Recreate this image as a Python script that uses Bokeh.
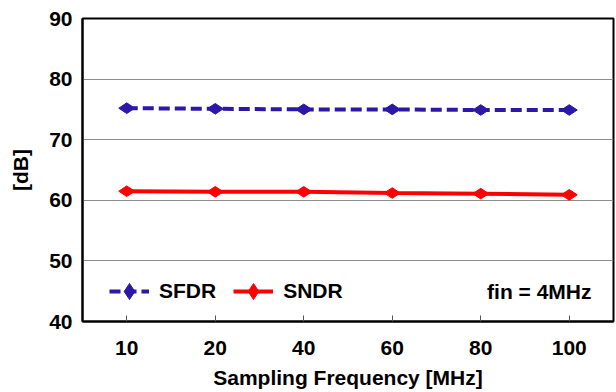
import math
from bokeh.plotting import figure
from bokeh.models import Legend, LegendItem, Label, FactorRange, FixedTicker, Range1d
from bokeh.embed import file_html
from bokeh.resources import INLINE

freqs = ["10", "20", "40", "60", "80", "100"]
sfdr = [75.2, 75.1, 75.0, 75.0, 74.9, 74.9]
sndr = [61.5, 61.4, 61.4, 61.2, 61.1, 60.9]
y_ticks = [40, 50, 60, 70, 80, 90]

FONT = "Liberation Sans"
FS = "21px"
BLUE = "#2B17A8"
RED = "#FF0000"

p = figure(width=616, height=392, x_range=FactorRange(factors=freqs),
           y_range=Range1d(40, 90), output_backend="svg", toolbar_location=None,
           min_border_left=82, min_border_right=3, min_border_top=18, min_border_bottom=71)

p.outline_line_color = "black"
p.outline_line_width = 2
p.xgrid.grid_line_color = None
p.ygrid.grid_line_color = "#8c8c8c"
p.ygrid.grid_line_width = 1
p.yaxis.ticker = FixedTicker(ticks=y_ticks)

for ax in (p.xaxis[0], p.yaxis[0]):
    ax.axis_line_color = "black"
    ax.axis_line_width = 2
    ax.major_label_text_font = FONT
    ax.major_label_text_font_style = "bold"
    ax.major_label_text_font_size = FS
    ax.major_label_text_color = "black"
    ax.axis_label_text_font = FONT
    ax.axis_label_text_font_style = "bold"
    ax.axis_label_text_font_size = FS
    ax.axis_label_text_color = "black"
    ax.minor_tick_line_color = None

p.xaxis.major_tick_in = 6
p.xaxis.major_tick_out = 0
p.xaxis.major_tick_line_color = "#555555"
p.xaxis.major_label_standoff = 19
p.xaxis.axis_label = "Sampling Frequency [MHz]"
p.xaxis.axis_label_standoff = 8

p.yaxis.major_tick_in = 0
p.yaxis.major_tick_out = 0
p.yaxis.major_label_standoff = 10
p.yaxis.axis_label = "[dB]"
p.yaxis.axis_label_standoff = 14

l1 = p.line(freqs, sfdr, line_color=BLUE, line_width=4, line_dash="11 5")
m1 = p.scatter(freqs, sfdr, marker="diamond", size=16, angle=math.pi / 2,
               fill_color=BLUE, line_color=BLUE)
l2 = p.line(freqs, sndr, line_color=RED, line_width=4)
m2 = p.scatter(freqs, sndr, marker="diamond", size=16, angle=math.pi / 2,
               fill_color=RED, line_color=RED)

legend = Legend(items=[LegendItem(label="SFDR", renderers=[l1, m1]),
                       LegendItem(label="SNDR", renderers=[l2, m2])],
                orientation="horizontal", location=(27, 10),
                glyph_width=40, glyph_height=40, label_height=40,
                label_standoff=10, spacing=17,
                padding=0, margin=0, border_line_color=None,
                background_fill_alpha=0,
                label_text_font=FONT, label_text_font_style="bold",
                label_text_font_size=FS, label_text_color="black")
p.add_layout(legend, "center")

p.add_layout(Label(x=591 - 82, y=30, x_units="screen", y_units="screen",
                   text="fin = 4MHz", text_align="right", text_baseline="middle",
                   text_font=FONT, text_font_style="bold", text_font_size=FS,
                   text_color="black"))

open("out.html", "w").write(file_html(p, INLINE))
